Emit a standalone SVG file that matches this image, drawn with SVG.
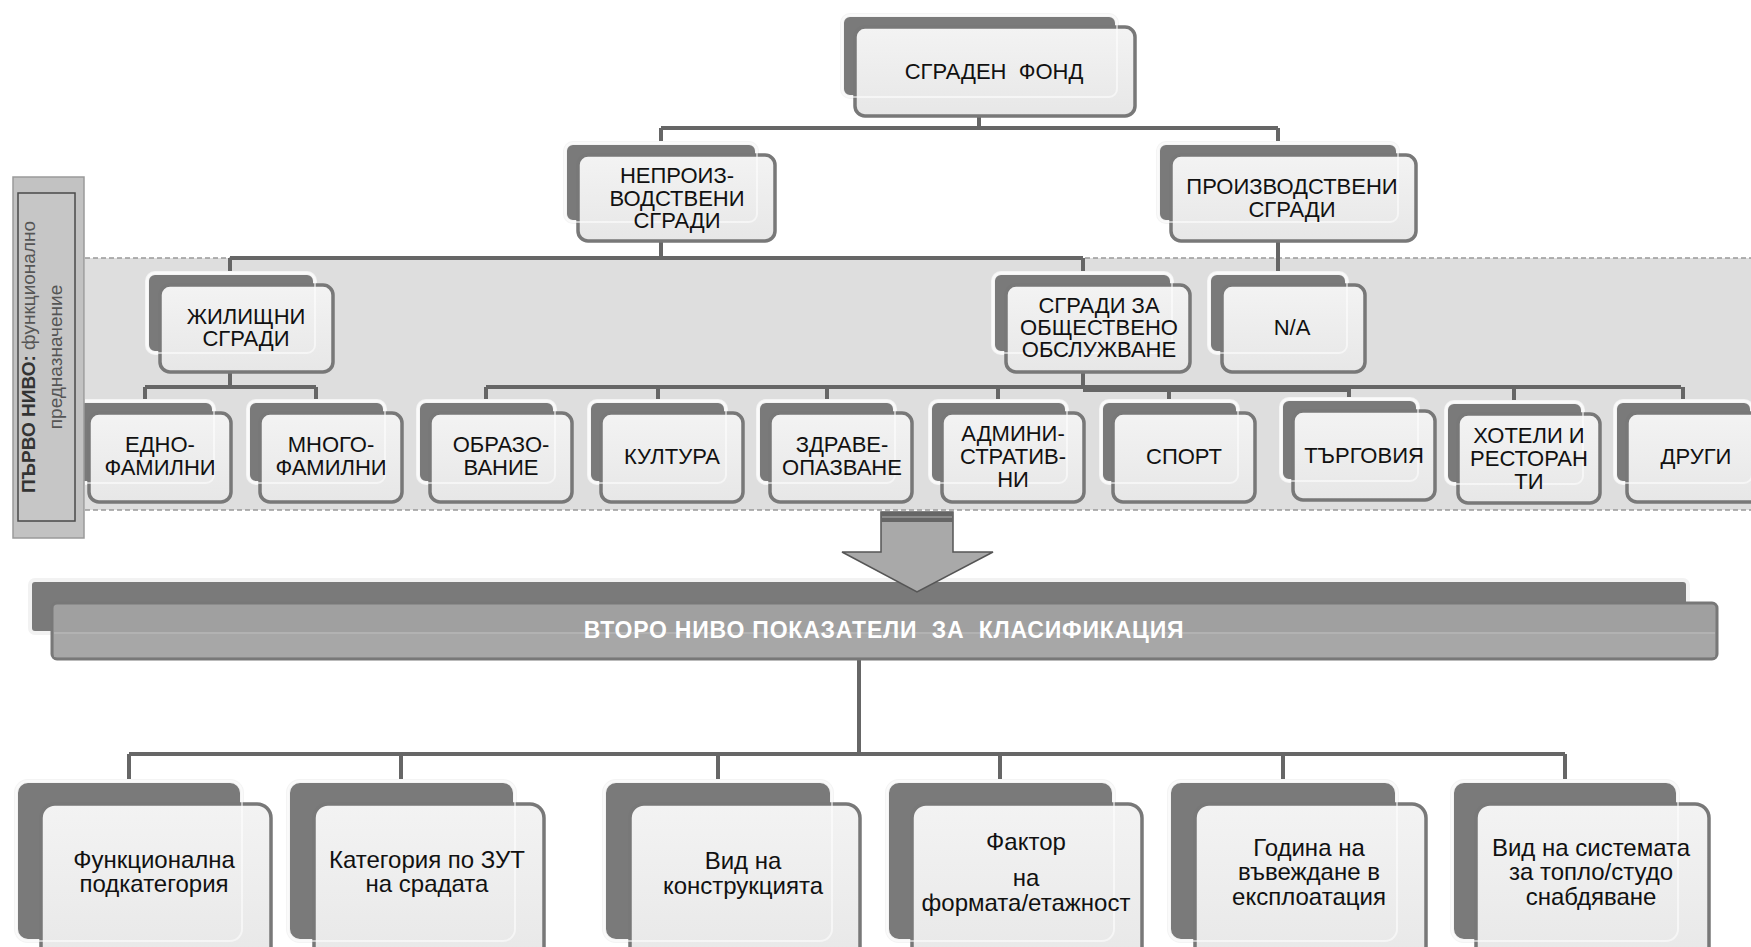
<svg xmlns="http://www.w3.org/2000/svg" width="1751" height="947" viewBox="0 0 1751 947">
<defs>
<linearGradient id="gf" x1="0" y1="0" x2="0" y2="1">
<stop offset="0" stop-color="#f3f3f3"/>
<stop offset="1" stop-color="#e7e7e7"/>
</linearGradient>
<style>
.bk{fill:#7a7a7a;stroke:#f4f4f4;stroke-width:4}
.fr{fill:url(#gf);stroke:#787878;stroke-width:3.5}
.ov{fill:none;stroke:#fff;stroke-opacity:.55;stroke-width:2}
.t{font-family:"Liberation Sans",Arial,sans-serif;font-size:22px;fill:#111;text-anchor:middle}
.tb{font-size:24px}
.c{fill:none;stroke:#666;stroke-width:4}
</style>
</defs>
<rect x="0" y="0" width="1751" height="947" fill="#fff"/>
<!-- band -->
<rect x="85" y="258" width="1680" height="252" fill="#dedede"/>
<line x1="85" y1="258" x2="1751" y2="258" stroke="#999" stroke-width="1.5" stroke-dasharray="5,3"/>
<line x1="85" y1="510" x2="1751" y2="510" stroke="#999" stroke-width="1.5" stroke-dasharray="5,3"/>

<g id="connectors">
<path class="c" d="M979,117V128M661,128H1278M661,128V143M1278,128V143"/>
<path class="c" d="M661,241V258M230,258H1083M230,258V273M1083,258V273"/>
<path class="c" d="M1278,241V273"/>
<path class="c" d="M230,372V387M145,387H316M145,387V401M316,387V401"/>
<path class="c" d="M1083,372V387M486,387H1681M486,387V401M658,387V401M827,387V401M998,387V401M1169,387V401M1349,387V399M1514,387V401M1683,387V401"/>
<path class="c" d="M1083,390H1349"/>
<path class="c" d="M859,659V754M129,754H1565M129,754V781M401,754V781M718,754V781M1000,754V781M1283,754V781M1565,754V781"/>
</g>

<g id="n-fond">
<rect class="bk" x="842" y="15" width="275" height="82" rx="8"/>
<rect class="fr" x="855" y="27" width="280" height="89" rx="10"/>
<rect class="ov" x="842" y="15" width="275" height="82" rx="8"/>
<text class="t" x="994" y="79" xml:space="preserve">СГРАДЕН  ФОНД</text>
</g>
<g id="n-neproiz">
<rect class="bk" x="565" y="143" width="192" height="79" rx="8"/>
<rect class="fr" x="578" y="155" width="197" height="86" rx="10"/>
<rect class="ov" x="565" y="143" width="192" height="79" rx="8"/>
<text class="t" x="677" y="183">НЕПРОИЗ-</text>
<text class="t" x="677" y="205.5">ВОДСТВЕНИ</text>
<text class="t" x="677" y="228">СГРАДИ</text>
</g>
<g id="n-proiz">
<rect class="bk" x="1158" y="143" width="240" height="79" rx="8"/>
<rect class="fr" x="1171" y="155" width="245" height="86" rx="10"/>
<rect class="ov" x="1158" y="143" width="240" height="79" rx="8"/>
<text class="t" x="1292" y="194">ПРОИЗВОДСТВЕНИ</text>
<text class="t" x="1292" y="217">СГРАДИ</text>
</g>
<g id="n-zhilishtni">
<rect class="bk" x="147" y="273" width="168" height="80" rx="8"/>
<rect class="fr" x="160" y="285" width="173" height="87" rx="10"/>
<rect class="ov" x="147" y="273" width="168" height="80" rx="8"/>
<text class="t" x="246" y="323.5">ЖИЛИЩНИ</text>
<text class="t" x="246" y="345.5">СГРАДИ</text>
</g>
<g id="n-obshtestveno">
<rect class="bk" x="993" y="273" width="179" height="80" rx="8"/>
<rect class="fr" x="1006" y="285" width="184" height="87" rx="10"/>
<rect class="ov" x="993" y="273" width="179" height="80" rx="8"/>
<text class="t" x="1099" y="312.5">СГРАДИ ЗА</text>
<text class="t" x="1099" y="334.5">ОБЩЕСТВЕНО</text>
<text class="t" x="1099" y="357">ОБСЛУЖВАНЕ</text>
</g>
<g id="n-na">
<rect class="bk" x="1209" y="273" width="138" height="80" rx="8"/>
<rect class="fr" x="1222" y="285" width="143" height="87" rx="10"/>
<rect class="ov" x="1209" y="273" width="138" height="80" rx="8"/>
<text class="t" x="1292" y="335">N/A</text>
</g>

<g id="n-edno">
<rect class="bk" x="77" y="401" width="137" height="82" rx="8"/>
<rect class="fr" x="89" y="413" width="142" height="89" rx="10"/>
<rect class="ov" x="77" y="401" width="137" height="82" rx="8"/>
<text class="t" x="160" y="451.5">ЕДНО-</text>
<text class="t" x="160" y="474.5">ФАМИЛНИ</text>
</g>
<g id="n-mnogo">
<rect class="bk" x="248" y="401" width="137" height="82" rx="8"/>
<rect class="fr" x="260" y="413" width="142" height="89" rx="10"/>
<rect class="ov" x="248" y="401" width="137" height="82" rx="8"/>
<text class="t" x="331" y="451.5">МНОГО-</text>
<text class="t" x="331" y="474.5">ФАМИЛНИ</text>
</g>
<g id="n-obrazovanie">
<rect class="bk" x="418" y="401" width="137" height="82" rx="8"/>
<rect class="fr" x="430" y="413" width="142" height="89" rx="10"/>
<rect class="ov" x="418" y="401" width="137" height="82" rx="8"/>
<text class="t" x="501" y="451.5">ОБРАЗО-</text>
<text class="t" x="501" y="474.5">ВАНИЕ</text>
</g>
<g id="n-kultura">
<rect class="bk" x="589" y="401" width="137" height="82" rx="8"/>
<rect class="fr" x="601" y="413" width="142" height="89" rx="10"/>
<rect class="ov" x="589" y="401" width="137" height="82" rx="8"/>
<text class="t" x="672" y="463.5">КУЛТУРА</text>
</g>
<g id="n-zdraveopazvane">
<rect class="bk" x="758" y="401" width="137" height="82" rx="8"/>
<rect class="fr" x="770" y="413" width="142" height="89" rx="10"/>
<rect class="ov" x="758" y="401" width="137" height="82" rx="8"/>
<text class="t" x="842" y="451.5">ЗДРАВЕ-</text>
<text class="t" x="842" y="474.5">ОПАЗВАНЕ</text>
</g>
<g id="n-administrativni">
<rect class="bk" x="930" y="401" width="137" height="82" rx="8"/>
<rect class="fr" x="942" y="413" width="142" height="89" rx="10"/>
<rect class="ov" x="930" y="401" width="137" height="82" rx="8"/>
<text class="t" x="1013" y="440.5">АДМИНИ-</text>
<text class="t" x="1013" y="463.5">СТРАТИВ-</text>
<text class="t" x="1013" y="486.5">НИ</text>
</g>
<g id="n-sport">
<rect class="bk" x="1101" y="401" width="137" height="82" rx="8"/>
<rect class="fr" x="1113" y="413" width="142" height="89" rx="10"/>
<rect class="ov" x="1101" y="401" width="137" height="82" rx="8"/>
<text class="t" x="1184" y="463.5">СПОРТ</text>
</g>
<g id="n-targovia">
<rect class="bk" x="1281" y="399" width="137" height="82" rx="8"/>
<rect class="fr" x="1293" y="411" width="142" height="89" rx="10"/>
<rect class="ov" x="1281" y="399" width="137" height="82" rx="8"/>
<text class="t" x="1364" y="463">ТЪРГОВИЯ</text>
</g>
<g id="n-hoteli">
<rect class="bk" x="1446" y="402" width="137" height="82" rx="8"/>
<rect class="fr" x="1458" y="414" width="142" height="89" rx="10"/>
<rect class="ov" x="1446" y="402" width="137" height="82" rx="8"/>
<text class="t" x="1529" y="442.5">ХОТЕЛИ И</text>
<text class="t" x="1529" y="465.5">РЕСТОРАН</text>
<text class="t" x="1529" y="488.5">ТИ</text>
</g>
<g id="n-drugi">
<rect class="bk" x="1615" y="401" width="137" height="82" rx="8"/>
<rect class="fr" x="1627" y="413" width="142" height="89" rx="10"/>
<rect class="ov" x="1615" y="401" width="137" height="82" rx="8"/>
<text class="t" x="1696" y="463.5">ДРУГИ</text>
</g>

<g id="second-level">
<rect x="30" y="580" width="1658" height="53" rx="5" fill="#7a7a7a" stroke="#f2f2f2" stroke-width="4"/>
<g id="arrow">
<polygon points="881,512 953,512 953,552 993,552 917,592 842,552 881,552" fill="#a9a9a9" stroke="#555" stroke-width="1.5"/>
<rect x="881" y="512" width="72" height="10" fill="#666"/>
<line x1="882" y1="517" x2="952" y2="517" stroke="#9a9a9a" stroke-width="1.5"/>
</g>
<rect x="52" y="603" width="1665" height="56" rx="5" fill="#a0a0a0" stroke="#787878" stroke-width="3"/>
<rect x="54" y="633" width="1661" height="24" fill="#a7a7a7"/>
<line x1="54" y1="633" x2="1715" y2="633" stroke="#b2b2b2" stroke-width="2"/>
<text x="884" y="637.5" font-family="Liberation Sans, Arial, sans-serif" font-size="23" font-weight="bold" fill="#fff" text-anchor="middle" letter-spacing="0.8" xml:space="preserve">ВТОРО НИВО ПОКАЗАТЕЛИ  ЗА  КЛАСИФИКАЦИЯ</text>
</g>

<g id="b-funkc">
<rect class="bk" x="16" y="781" width="226" height="160" rx="12"/>
<rect class="fr" x="41" y="804" width="230" height="170" rx="14"/>
<rect class="ov" x="16" y="781" width="226" height="160" rx="12"/>
<text class="t tb" x="154" y="868">Функционална</text>
<text class="t tb" x="154" y="892">подкатегория</text>
</g>
<g id="b-kategoria">
<rect class="bk" x="288" y="781" width="227" height="160" rx="12"/>
<rect class="fr" x="314" y="804" width="230" height="170" rx="14"/>
<rect class="ov" x="288" y="781" width="227" height="160" rx="12"/>
<text class="t tb" x="427" y="868">Категория по ЗУТ</text>
<text class="t tb" x="427" y="892">на срадата</text>
</g>
<g id="b-konstrukcia">
<rect class="bk" x="604" y="781" width="228" height="160" rx="12"/>
<rect class="fr" x="630" y="804" width="230" height="170" rx="14"/>
<rect class="ov" x="604" y="781" width="228" height="160" rx="12"/>
<text class="t tb" x="743" y="869">Вид на</text>
<text class="t tb" x="743" y="894">конструкцията</text>
</g>
<g id="b-faktor">
<rect class="bk" x="887" y="781" width="227" height="160" rx="12"/>
<rect class="fr" x="912" y="804" width="230" height="170" rx="14"/>
<rect class="ov" x="887" y="781" width="227" height="160" rx="12"/>
<text class="t tb" x="1026" y="850">Фактор</text>
<text class="t tb" x="1026" y="886">на</text>
<text class="t tb" x="1026" y="911">формата/етажност</text>
</g>
<g id="b-godina">
<rect class="bk" x="1169" y="781" width="228" height="160" rx="12"/>
<rect class="fr" x="1195" y="804" width="231" height="170" rx="14"/>
<rect class="ov" x="1169" y="781" width="228" height="160" rx="12"/>
<text class="t tb" x="1309" y="856">Година на</text>
<text class="t tb" x="1309" y="880">въвеждане в</text>
<text class="t tb" x="1309" y="905">експлоатация</text>
</g>
<g id="b-sistema">
<rect class="bk" x="1452" y="781" width="226" height="160" rx="12"/>
<rect class="fr" x="1476" y="804" width="233" height="170" rx="14"/>
<rect class="ov" x="1452" y="781" width="226" height="160" rx="12"/>
<text class="t tb" x="1591" y="856">Вид на системата</text>
<text class="t tb" x="1591" y="880">за топло/студо</text>
<text class="t tb" x="1591" y="905">снабдяване</text>
</g>

<g id="level1-label">
<rect x="13" y="177" width="71" height="361" fill="#c2c2c2" stroke="#9a9a9a" stroke-width="1.5"/>
<rect x="18" y="193" width="57" height="328" fill="#c6c6c6" stroke="#4a4a4a" stroke-width="1.5"/>
<text transform="translate(35,357) rotate(-90)" font-family="Liberation Sans, Arial, sans-serif" font-size="19" text-anchor="middle"><tspan font-weight="bold" fill="#333">ПЪРВО НИВО:</tspan><tspan fill="#555"> функционално</tspan></text>
<text transform="translate(62,357) rotate(-90)" font-family="Liberation Sans, Arial, sans-serif" font-size="19" text-anchor="middle" fill="#555">предназначение</text>
</g>
</svg>
